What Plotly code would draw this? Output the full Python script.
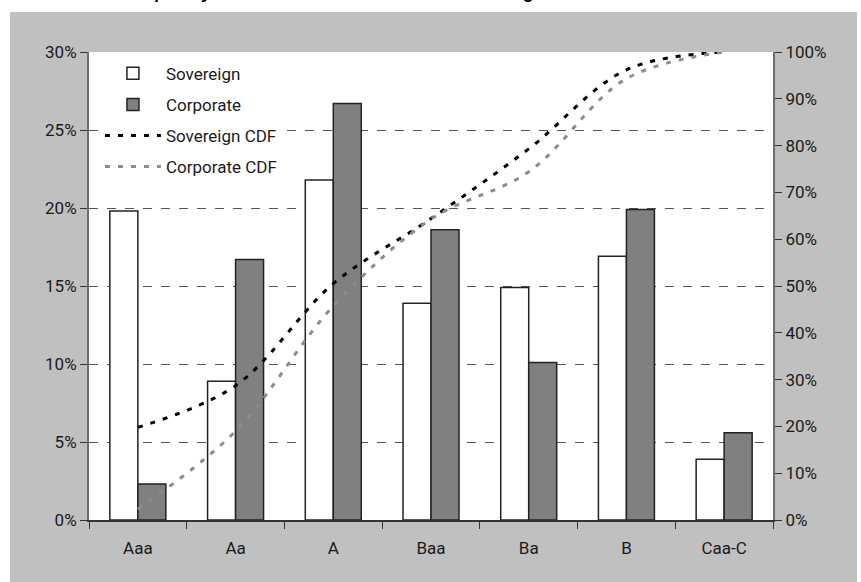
import plotly.graph_objects as go

categories = ["Aaa", "Aa", "A", "Baa", "Ba", "B", "Caa-C"]
sovereign = [19.8, 8.9, 21.8, 13.9, 14.9, 16.9, 3.9]
corporate = [2.3, 16.7, 26.7, 18.6, 10.1, 19.9, 5.6]
sovereign_cdf = [19.8, 28.7, 50.5, 64.4, 79.3, 96.2, 100.0]
corporate_cdf = [2.3, 19.0, 45.7, 64.3, 74.4, 94.3, 100.0]
left_ticks = [0, 5, 10, 15, 20, 25, 30]
right_ticks = [0, 10, 20, 30, 40, 50, 60, 70, 80, 90, 100]
title_text = "Frequency Distribution of Issuers Across Ratings"

FONT = "Roboto, Liberation Sans, sans-serif"

fig = go.Figure()
fig.add_trace(go.Bar(x=categories, y=sovereign, name="Sovereign", legendgroup="a",
                     marker=dict(color="white", line=dict(color="#222222", width=1.5))))
fig.add_trace(go.Bar(x=categories, y=corporate, name="Corporate", legendgroup="b",
                     marker=dict(color="#808080", line=dict(color="#222222", width=1.5))))
fig.add_trace(go.Scatter(x=categories, y=sovereign_cdf, name="Sovereign CDF", yaxis="y2", legendgroup="c",
                         mode="lines", line=dict(color="black", width=3, dash="5px,8px", shape="spline")))
fig.add_trace(go.Scatter(x=categories, y=corporate_cdf, name="Corporate CDF", yaxis="y2", legendgroup="d",
                         mode="lines", line=dict(color="#8c8c8c", width=3, dash="5px,8px", shape="spline")))

fig.update_layout(
    width=861, height=582,
    margin=dict(l=89, r=88, t=52, b=62),
    paper_bgcolor="white", plot_bgcolor="rgba(0,0,0,0)",
    font=dict(family=FONT, size=17, color="#1a1a1a"),
    barmode="group", bargap=0.427, bargroupgap=0,
    showlegend=True,
    legend=dict(x=0.016, y=0.992, xanchor="left", yanchor="top", bgcolor="white",
                font=dict(family=FONT, size=17), itemwidth=56, tracegroupgap=6,
                traceorder="grouped"),
    xaxis=dict(type="category", showgrid=False, ticks="outside", tickson="boundaries",
               ticklen=7, tickcolor="#333333", showline=True, linecolor="#333333", linewidth=1.5,
               ticklabelstandoff=12),
    yaxis=dict(range=[0, 30], tickvals=left_ticks, ticktext=[f"{v}%" for v in left_ticks],
               showgrid=True, gridcolor="#555555", griddash="dash", gridwidth=1,
               ticks="outside", ticklen=7, tickcolor="#333333",
               showline=True, linecolor="#6e6e6e", linewidth=2, zeroline=False),
    yaxis2=dict(range=[0, 100], overlaying="y", side="right",
                tickvals=right_ticks, ticktext=[f"{v}%" for v in right_ticks],
                showgrid=False, ticks="outside", ticklen=7, tickcolor="#333333",
                showline=True, linecolor="#6e6e6e", linewidth=2, zeroline=False),
    shapes=[
        dict(type="rect", xref="paper", yref="paper", x0=-0.1155, x1=1.1228,
             y0=-0.2, y1=1.0855, fillcolor="#c0c0c0", line=dict(width=0), layer="below"),
        dict(type="rect", xref="paper", yref="paper", x0=0, x1=1,
             y0=0, y1=1, fillcolor="white", line=dict(width=0), layer="below"),
    ],
    annotations=[dict(text=f"<b>{title_text}</b>", xref="paper", yref="paper",
                      x=0.042, y=1.1275, xanchor="left", yanchor="middle", showarrow=False,
                      font=dict(family="Liberation Sans, Arial, sans-serif", size=18, color="black"))],
)

fig.write_html("out.html", config={"displayModeBar": False},
               post_script="document.body.style.margin='0';")
